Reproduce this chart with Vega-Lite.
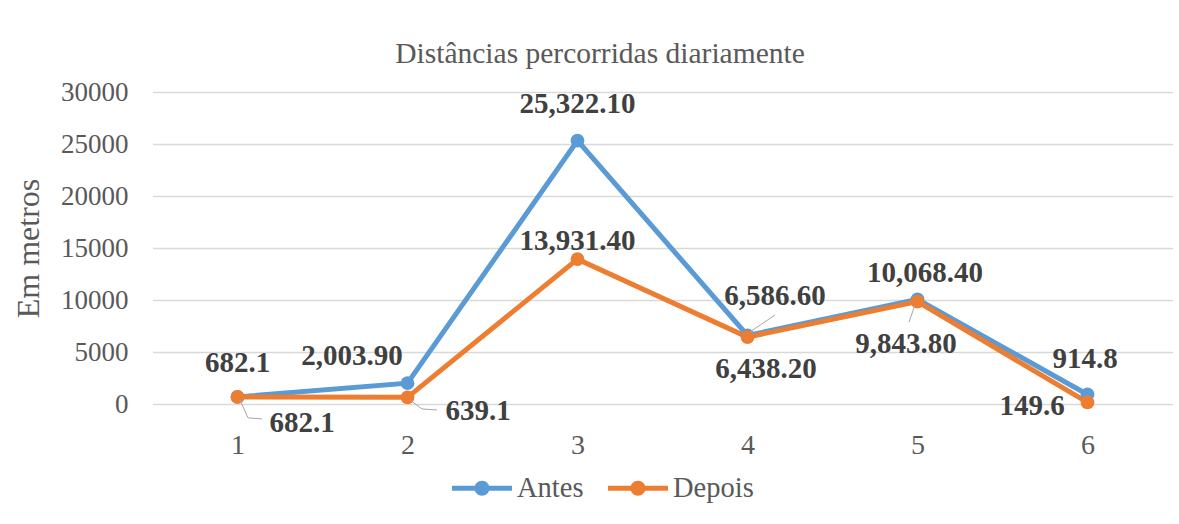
{
  "$schema": "https://vega.github.io/schema/vega-lite/v6.json",
  "width": 1020,
  "height": 312,
  "autosize": {"type": "none"},
  "padding": {"left": 152.5, "top": 92, "right": 6.5, "bottom": 120},
  "background": "white",
  "title": {
    "text": "Distâncias percorridas diariamente",
    "font": "Liberation Serif",
    "fontSize": 29.5,
    "fontWeight": "normal",
    "color": "#595959",
    "anchor": "middle",
    "frame": "group",
    "dx": -62.5,
    "offset": -14,
    "baseline": "alphabetic"
  },
  "data": {
    "values": [
      {"x": 1, "serie": "Antes", "valor": 682.1, "rotulo": "682.1"},
      {"x": 2, "serie": "Antes", "valor": 2003.9, "rotulo": "2,003.90"},
      {"x": 3, "serie": "Antes", "valor": 25322.1, "rotulo": "25,322.10"},
      {"x": 4, "serie": "Antes", "valor": 6586.6, "rotulo": "6,586.60"},
      {"x": 5, "serie": "Antes", "valor": 10068.4, "rotulo": "10,068.40"},
      {"x": 6, "serie": "Antes", "valor": 914.8, "rotulo": "914.8"},
      {"x": 1, "serie": "Depois", "valor": 682.1, "rotulo": "682.1"},
      {"x": 2, "serie": "Depois", "valor": 639.1, "rotulo": "639.1"},
      {"x": 3, "serie": "Depois", "valor": 13931.4, "rotulo": "13,931.40"},
      {"x": 4, "serie": "Depois", "valor": 6438.2, "rotulo": "6,438.20"},
      {"x": 5, "serie": "Depois", "valor": 9843.8, "rotulo": "9,843.80"},
      {"x": 6, "serie": "Depois", "valor": 149.6, "rotulo": "149.6"}
    ]
  },
  "encoding": {
    "x": {
      "field": "x",
      "type": "ordinal",
      "scale": {"type": "point", "padding": 0.5},
      "axis": {
        "title": null,
        "labelAngle": 0,
        "domain": false,
        "ticks": false,
        "grid": false,
        "labelFont": "Liberation Serif",
        "labelFontSize": 28,
        "labelColor": "#595959",
        "labelPadding": 27
      }
    },
    "y": {
      "field": "valor",
      "type": "quantitative",
      "scale": {"domain": [0, 30000], "nice": false},
      "axis": {
        "title": "Em metros",
        "values": [0, 5000, 10000, 15000, 20000, 25000, 30000],
        "format": "d",
        "domain": false,
        "ticks": false,
        "grid": true,
        "gridColor": "#d9d9d9",
        "gridWidth": 1.5,
        "labelFont": "Liberation Serif",
        "labelFontSize": 27,
        "labelColor": "#595959",
        "labelPadding": 24.5,
        "titleFont": "Liberation Serif",
        "titleFontSize": 32,
        "titleFontWeight": "normal",
        "titleColor": "#595959",
        "titlePadding": 15
      }
    }
  },
  "layer": [
    {
      "mark": {"type": "line", "strokeWidth": 5},
      "encoding": {
        "color": {
          "field": "serie",
          "type": "nominal",
          "scale": {"domain": ["Antes", "Depois"], "range": ["#5B9BD5", "#ED7D31"]},
          "legend": {
            "title": null,
            "orient": "none",
            "direction": "horizontal",
            "legendX": 299.5,
            "legendY": 366,
            "padding": 0,
            "symbolType": "M-1,-0.08L-0.22,-0.08L-0.22,0.08L-1,0.08Z M0.22,-0.08L1,-0.08L1,0.08L0.22,0.08Z M0.25,0A0.25,0.25 0 1,1 -0.25,0A0.25,0.25 0 1,1 0.25,0Z",
            "symbolSize": 3600,
            "symbolStrokeWidth": 0,
            "labelFont": "Liberation Serif",
            "labelFontSize": 28.5,
            "labelColor": "#595959",
            "labelOffset": 5,
            "columnPadding": 24,
            "encode": {
              "symbols": {
                "update": {
                  "fill": {"scale": "color", "field": "value"},
                  "stroke": {"value": "transparent"}
                }
              }
            }
          }
        }
      }
    },
    {
      "mark": {"type": "point", "filled": true, "size": 190, "opacity": 1},
      "encoding": {
        "color": {"field": "serie", "type": "nominal", "legend": null}
      }
    },
    {
      "transform": [{"filter": "datum.serie == 'Depois' && datum.x == 1"}],
      "mark": {"type": "rule", "color": "#a6a6a6", "strokeWidth": 1, "xOffset": 2.5, "yOffset": 3, "x2Offset": 10.5, "y2Offset": 21},
      "encoding": {"x2": {"field": "x"}, "y2": {"field": "valor"}}
    },
    {
      "transform": [{"filter": "datum.serie == 'Depois' && datum.x == 1"}],
      "mark": {"type": "rule", "color": "#a6a6a6", "strokeWidth": 1, "xOffset": 10.5, "yOffset": 21, "x2Offset": 24.5, "y2Offset": 22},
      "encoding": {"x2": {"field": "x"}, "y2": {"field": "valor"}}
    },
    {
      "transform": [{"filter": "datum.serie == 'Depois' && datum.x == 2"}],
      "mark": {"type": "rule", "color": "#a6a6a6", "strokeWidth": 1, "xOffset": 2.5, "yOffset": 2.6, "x2Offset": 14.5, "y2Offset": 11.6},
      "encoding": {"x2": {"field": "x"}, "y2": {"field": "valor"}}
    },
    {
      "transform": [{"filter": "datum.serie == 'Depois' && datum.x == 2"}],
      "mark": {"type": "rule", "color": "#a6a6a6", "strokeWidth": 1, "xOffset": 14.5, "yOffset": 11.6, "x2Offset": 29.5, "y2Offset": 12.6},
      "encoding": {"x2": {"field": "x"}, "y2": {"field": "valor"}}
    },
    {
      "transform": [{"filter": "datum.serie == 'Antes' && datum.x == 4"}],
      "mark": {"type": "rule", "color": "#a6a6a6", "strokeWidth": 1, "xOffset": 2.5, "yOffset": -3.5, "x2Offset": 27.5, "y2Offset": -20.5},
      "encoding": {"x2": {"field": "x"}, "y2": {"field": "valor"}}
    },
    {
      "transform": [{"filter": "datum.serie == 'Depois' && datum.x == 5"}],
      "mark": {"type": "rule", "color": "#a6a6a6", "strokeWidth": 1, "xOffset": -2.5, "yOffset": 3.4, "x2Offset": -8.5, "y2Offset": 20.4},
      "encoding": {"x2": {"field": "x"}, "y2": {"field": "valor"}}
    },
    {
      "transform": [{"filter": "datum.serie == 'Antes' && datum.x == 1"}],
      "mark": {"type": "text", "font": "Liberation Serif", "fontWeight": "bold", "fontSize": 29, "color": "#404040", "align": "center", "baseline": "alphabetic", "dx": 0, "dy": -25},
      "encoding": {"text": {"field": "rotulo"}}
    },
    {
      "transform": [{"filter": "datum.serie == 'Antes' && datum.x == 2"}],
      "mark": {"type": "text", "font": "Liberation Serif", "fontWeight": "bold", "fontSize": 29, "color": "#404040", "align": "center", "baseline": "alphabetic", "dx": -55.5, "dy": -18},
      "encoding": {"text": {"field": "rotulo"}}
    },
    {
      "transform": [{"filter": "datum.serie == 'Antes' && datum.x == 3"}],
      "mark": {"type": "text", "font": "Liberation Serif", "fontWeight": "bold", "fontSize": 29, "color": "#404040", "align": "center", "baseline": "alphabetic", "dx": 0, "dy": -27.6},
      "encoding": {"text": {"field": "rotulo"}}
    },
    {
      "transform": [{"filter": "datum.serie == 'Antes' && datum.x == 4"}],
      "mark": {"type": "text", "font": "Liberation Serif", "fontWeight": "bold", "fontSize": 29, "color": "#404040", "align": "center", "baseline": "alphabetic", "dx": 27.5, "dy": -30.5},
      "encoding": {"text": {"field": "rotulo"}}
    },
    {
      "transform": [{"filter": "datum.serie == 'Antes' && datum.x == 5"}],
      "mark": {"type": "text", "font": "Liberation Serif", "fontWeight": "bold", "fontSize": 29, "color": "#404040", "align": "center", "baseline": "alphabetic", "dx": 7.5, "dy": -17},
      "encoding": {"text": {"field": "rotulo"}}
    },
    {
      "transform": [{"filter": "datum.serie == 'Antes' && datum.x == 6"}],
      "mark": {"type": "text", "font": "Liberation Serif", "fontWeight": "bold", "fontSize": 29, "color": "#404040", "align": "center", "baseline": "alphabetic", "dx": -2.5, "dy": -26.5},
      "encoding": {"text": {"field": "rotulo"}}
    },
    {
      "transform": [{"filter": "datum.serie == 'Depois' && datum.x == 1"}],
      "mark": {"type": "text", "font": "Liberation Serif", "fontWeight": "bold", "fontSize": 29, "color": "#404040", "align": "center", "baseline": "alphabetic", "dx": 64.5, "dy": 35},
      "encoding": {"text": {"field": "rotulo"}}
    },
    {
      "transform": [{"filter": "datum.serie == 'Depois' && datum.x == 2"}],
      "mark": {"type": "text", "font": "Liberation Serif", "fontWeight": "bold", "fontSize": 29, "color": "#404040", "align": "center", "baseline": "alphabetic", "dx": 70.5, "dy": 22.6},
      "encoding": {"text": {"field": "rotulo"}}
    },
    {
      "transform": [{"filter": "datum.serie == 'Depois' && datum.x == 3"}],
      "mark": {"type": "text", "font": "Liberation Serif", "fontWeight": "bold", "fontSize": 29, "color": "#404040", "align": "center", "baseline": "alphabetic", "dx": 0, "dy": -9},
      "encoding": {"text": {"field": "rotulo"}}
    },
    {
      "transform": [{"filter": "datum.serie == 'Depois' && datum.x == 4"}],
      "mark": {"type": "text", "font": "Liberation Serif", "fontWeight": "bold", "fontSize": 29, "color": "#404040", "align": "center", "baseline": "alphabetic", "dx": 18.5, "dy": 41},
      "encoding": {"text": {"field": "rotulo"}}
    },
    {
      "transform": [{"filter": "datum.serie == 'Depois' && datum.x == 5"}],
      "mark": {"type": "text", "font": "Liberation Serif", "fontWeight": "bold", "fontSize": 29, "color": "#404040", "align": "center", "baseline": "alphabetic", "dx": -11.5, "dy": 51.4},
      "encoding": {"text": {"field": "rotulo"}}
    },
    {
      "transform": [{"filter": "datum.serie == 'Depois' && datum.x == 6"}],
      "mark": {"type": "text", "font": "Liberation Serif", "fontWeight": "bold", "fontSize": 29, "color": "#404040", "align": "center", "baseline": "alphabetic", "dx": -55.5, "dy": 12.6},
      "encoding": {"text": {"field": "rotulo"}}
    }
  ],
  "config": {
    "view": {"stroke": null}
  }
}
